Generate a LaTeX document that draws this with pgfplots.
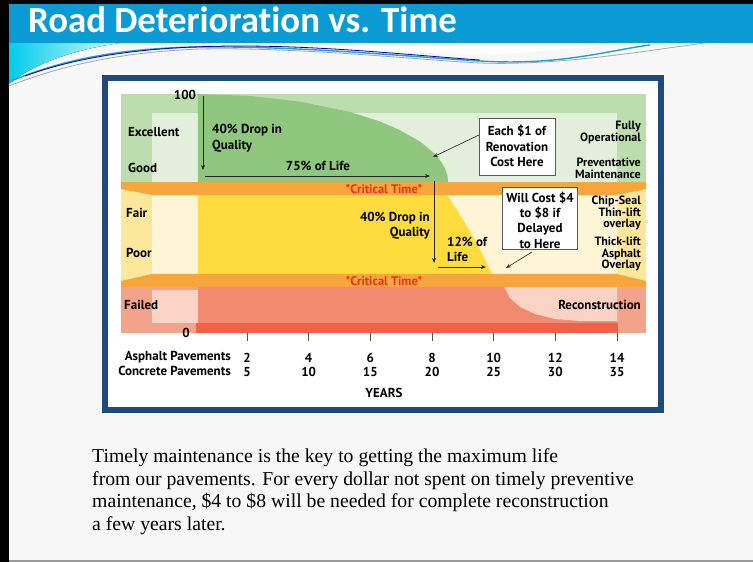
\documentclass[border=0pt]{standalone}
\usepackage{pgfplots}
\pgfplotsset{compat=1.18}
\usepackage{fontspec}
\setmainfont{Liberation Serif}
\newfontfamily\titlefont[Ligatures=NoCommon]{Carlito}
\newfontfamily\chartfont{PT Sans}
\usetikzlibrary{arrows.meta}
\definecolor{slidebg}{HTML}{F7F7F7}
\definecolor{titleblue}{HTML}{0A9BD5}
\definecolor{framecol}{HTML}{1F4A80}
\definecolor{gOut}{HTML}{BCDDAE}
\definecolor{gIn}{HTML}{E2F0DB}
\definecolor{gMain}{HTML}{90C77E}
\definecolor{orangeB}{HTML}{F7A63E}
\definecolor{yOut}{HTML}{FDE79A}
\definecolor{yIn}{HTML}{FEF4D6}
\definecolor{yMain}{HTML}{FFDC3D}
\definecolor{rOut}{HTML}{F4A38B}
\definecolor{rIn}{HTML}{FAD3C5}
\definecolor{rMain}{HTML}{F18A6F}
\definecolor{rDark}{HTML}{EE6347}
\definecolor{critred}{HTML}{E8321E}
\definecolor{tickgray}{HTML}{555555}
\definecolor{swcyan}{HTML}{00CDEB}
\newcommand\cfb{\chartfont\bfseries\fontsize{13}{13}\selectfont}
\newcommand\cfbox{\chartfont\bfseries\fontsize{13}{15.3}\selectfont}
\newcommand\cfstack{\chartfont\bfseries\fontsize{12}{11.5}\selectfont}
\begin{document}
\begin{tikzpicture}
\begin{scope}[x=1pt,y=-1pt]
\fill[slidebg] (0,0) rectangle (753,562);
\fill[black] (0,0) rectangle (753,4);
\fill[black] (0,0) rectangle (9,562);
\fill[gray!80] (9,560) rectangle (753,562);
\fill[titleblue] (9,4) rectangle (753,43);
% swoosh
\fill[left color=swcyan, right color=swcyan!15] (9,43) -- (120,43) .. controls (70,50) and (30,66) .. (9,84) -- cycle;
\draw[cyan!70!teal, line width=1.4pt] (9,82) .. controls (60,60) and (120,48) .. (200,47) .. controls (300,46) and (400,56) .. (480,61) .. controls (560,66) and (610,50) .. (650,45);
\draw[blue!70!black, line width=0.8pt] (25,76) .. controls (80,56) and (150,46) .. (240,46) .. controls (330,46) and (420,56) .. (480,60);
\draw[gray!70, line width=0.8pt] (9,86) .. controls (60,66) and (120,52) .. (200,49) .. controls (300,47) and (420,60) .. (480,63) .. controls (560,66) and (650,50) .. (705,43);
\fill[white] (290,43) .. controls (380,50) and (450,56) .. (500,54) .. controls (560,50) and (620,44) .. (650,43) -- cycle;
\node[anchor=base west, text=white, inner sep=0pt, font=\titlefont\bfseries\fontsize{36.8}{36.8}\selectfont] at (28,32) {Road Deterioration vs. Time};
% chart frame
\draw[framecol, line width=6pt, fill=white] (105,78) rectangle (661,410);
\end{scope}

\begin{axis}[
  at={(121pt,-333pt)}, anchor=south west,
  width=525pt, height=239pt, scale only axis,
  xmin=-2.087, xmax=14.94, ymin=0, ymax=100,
  axis x line*=bottom, axis y line=none,
  x axis line style={draw=none},
  xtick={2,4,...,14},
  xticklabels={{2\\5},{4\\10},{6\\15},{8\\20},{10\\25},{12\\30},{14\\35}},
  major tick length=16pt, tick align=center,
  xtick style={draw=tickgray, line width=0.9pt},
  xticklabel style={font=\chartfont\bfseries\fontsize{13}{14}\selectfont, align=center, inner sep=0pt, yshift=-12pt},
]
% green zone
\addplot[draw=none, fill=gOut] coordinates {(-2.087,63.18) (14.94,63.18) (14.94,100) (-2.087,100)};
\addplot[draw=none, fill=gIn] coordinates {(-1.08,63.18) (14.0,63.18) (14.0,92.05) (-1.08,92.05)};
\addplot[draw=none, fill=gMain] coordinates {(0.41,100) (2.10,99.2) (3.72,96.8) (5.34,92.5) (6.31,88.5) (6.96,84.9) (7.61,80.1) (8.10,74.9) (8.30,71.5) (8.42,68.9) (8.50,66.0) (8.52,63.18) (0.41,63.18)};
% yellow zone
\addplot[draw=none, fill=yOut] coordinates {(-2.087,20) (14.94,20) (14.94,62) (-2.087,62)};
\addplot[draw=none, fill=yIn] coordinates {(-1.08,24.69) (14.0,24.69) (14.0,57.74) (-1.08,57.74)};
\addplot[draw=none, fill=yMain] coordinates {(0.41,57.74) (8.49,57.74) (8.91,49.4) (9.30,41.0) (9.65,32.6) (9.95,24.69) (0.41,24.69)};
% red zone
\addplot[draw=none, fill=rOut] coordinates {(-2.087,0) (14.94,0) (14.94,19.25) (-2.087,19.25)};
\addplot[draw=none, fill=rIn] coordinates {(-1.08,4.18) (0.41,4.18) (0.41,17.99) (-1.08,17.99)};
\addplot[draw=none, fill=rMain] coordinates {(0.41,4.18) (14.0,4.18) (14.0,19.25) (0.41,19.25)};
\addplot[draw=none, fill=rIn] coordinates {(10.34,19.25) (10.53,14.6) (10.86,10.9) (11.34,7.95) (11.99,5.86) (12.80,5.02) (14.0,5.02) (14.0,19.25)};
\addplot[draw=none, fill=rDark] coordinates {(0.35,0) (14.03,0) (14.03,4.18) (0.35,4.18)};
% critical bands
\addplot[draw=none, fill=orangeB] coordinates {(-2.087,63.18) (14.94,63.18) (14.94,60.25) (14.0,57.74) (-1.08,57.74) (-2.087,60.25)};
\addplot[draw=none, fill=orangeB] coordinates {(-2.087,21.76) (-1.08,24.69) (14.0,24.69) (14.94,21.76) (14.94,19.25) (-2.087,19.25)};
% arrows
\addplot[black!85, line width=0.8pt, -{Stealth[length=5pt,width=4pt]}] coordinates {(0.573,99.2) (0.573,68.2)};
\addplot[black!85, line width=0.8pt, -{Stealth[length=5pt,width=4pt]}] coordinates {(0.638,65.69) (7.935,65.69)};
\addplot[black!85, line width=0.8pt, -{Stealth[length=5pt,width=4pt]}] coordinates {(8.065,63.6) (8.065,29.3)};
\addplot[black!85, line width=0.8pt, -{Stealth[length=5pt,width=4pt]}] coordinates {(8.195,27.6) (9.751,27.6)};
\addplot[black!80, line width=0.7pt, -{Stealth[length=5pt,width=4pt]}] coordinates {(9.524,82.85) (8.033,73.64)};
\addplot[black!80, line width=0.7pt, -{Stealth[length=5pt,width=4pt]}] coordinates {(11.243,33.89) (10.40,27.2)};
\end{axis}

\begin{scope}[x=1pt,y=-1pt, every node/.style={inner sep=0pt, font=\cfb}]
\node[anchor=west] at (128,132) {Excellent};
\node[anchor=west] at (128,168) {Good};
\node[anchor=west] at (126,213) {Fair};
\node[anchor=west] at (126,253) {Poor};
\node[anchor=west] at (124,305) {Failed};
\node at (185,95) {100};
\node at (186,333) {0};
\node[anchor=east] at (231,357) {Asphalt Pavements};
\node[anchor=east] at (231,371) {Concrete Pavements};
\node at (384,393) {YEARS};
\node[anchor=west, align=left, font=\chartfont\bfseries\fontsize{13}{16}\selectfont] at (212,138) {40\% Drop in\\Quality};
\node at (318,166) {75\% of Life};
\node[text=critred, font=\chartfont\bfseries\fontsize{12.5}{12.5}\selectfont] at (384,189) {*Critical Time*};
\node[text=critred, font=\chartfont\bfseries\fontsize{12.5}{12.5}\selectfont] at (384,281) {*Critical Time*};
\node[anchor=east, align=right, font=\chartfont\bfseries\fontsize{13}{14.5}\selectfont] at (430,226) {40\% Drop in\\Quality};
\node[anchor=west, align=left, font=\chartfont\bfseries\fontsize{13}{15}\selectfont] at (447,249.5) {12\% of\\Life};
% boxes
\draw[black!65, line width=0.8pt, fill=white] (479,118) rectangle (555,175);
\node[font=\cfbox, align=center] at (517,146) {Each \$1 of\\Renovation\\Cost Here};
\draw[black!65, line width=0.8pt, fill=white] (502,187) rectangle (577,249);
\node[font=\cfbox, align=center] at (540,220) {Will Cost \$4\\to \$8 if\\Delayed\\to Here};
% right labels
\node[anchor=east, align=right, font=\cfstack] at (641,132.5) {Fully\\Operational};
\node[anchor=east, align=right, font=\cfstack] at (641,168.5) {Preventative\\Maintenance};
\node[anchor=east, align=right, font=\cfstack] at (641,213) {Chip-Seal\\Thin-lift\\overlay};
\node[anchor=east, align=right, font=\cfstack] at (641,254) {Thick-lift\\Asphalt\\Overlay};
\node[anchor=east] at (641,305) {Reconstruction};
% body text
\begin{scope}[every node/.style={inner sep=0pt, anchor=base west, font=\fontsize{19.7}{19.7}\selectfont}]
\node at (92,462) {Timely maintenance is the key to getting the maximum life};
\node at (92,485) {from our pavements. For every dollar not spent on timely preventive};
\node at (92,507) {maintenance, \$4 to \$8 will be needed for complete reconstruction};
\node at (92,530) {a few years later.};
\end{scope}
\end{scope}
\end{tikzpicture}
\end{document}
